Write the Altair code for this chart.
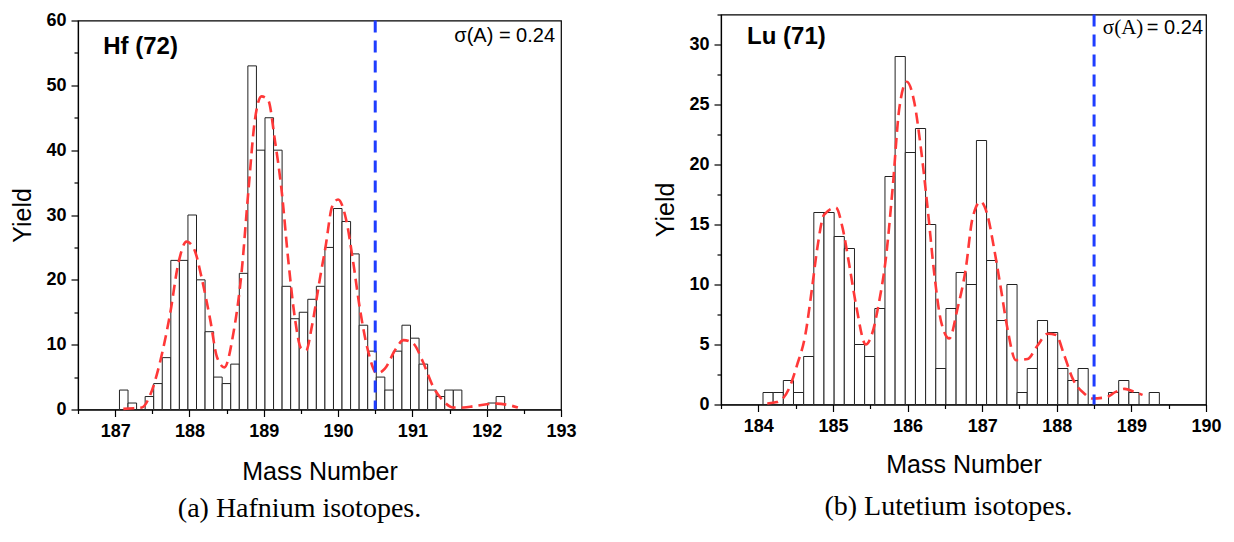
import altair as alt
import pandas as pd

# ---------------- data ----------------
# Hafnium histogram
hf_counts = [3, 1, 0, 2, 4, 8, 23, 23, 30, 20, 12, 5, 4, 7, 21, 53, 40, 45, 40, 19,
             14, 15, 17, 19, 25, 31, 29, 24, 13, 9, 5, 3, 9, 13, 11, 7, 3, 2, 3, 3,
             0, 0, 0, 1, 2]
hf_bin_start = 187.058
hf_bin_width = 0.1152
hf_fit_x = [187.11, 187.25, 187.36, 187.47, 187.61, 187.74, 187.85, 187.96, 188.06, 188.17,
            188.28, 188.37, 188.47, 188.59, 188.70, 188.79, 188.88, 188.97, 189.06, 189.15,
            189.24, 189.33, 189.42, 189.50, 189.57, 189.65, 189.76, 189.83, 189.92, 190.0,
            190.11, 190.20, 190.29, 190.40, 190.52, 190.63, 190.77, 190.88, 191.01, 191.14,
            191.28, 191.41, 191.55, 191.69, 191.82, 192.0, 192.13, 192.29, 192.42]
hf_fit_y = [0.1, 0.2, 0.3, 2.2, 7.6, 14.8, 22.5, 25.9, 24.8, 20.0,
            13.8, 8.1, 6.5, 11.7, 21.0, 33.3, 44.6, 48.3, 47.7, 41.5,
            33.8, 23.0, 14.0, 9.5, 9.1, 13.0, 20.5, 25.0, 31.3, 32.4,
            29.2, 23.0, 15.8, 9.2, 5.6, 6.3, 9.2, 10.7, 10.2, 7.4,
            3.5, 1.4, 0.3, 0.3, 0.5, 0.8, 0.9, 0.7, 0.3]
hf_cut = 190.5

# Lutetium histogram
lu_counts = [1, 1, 2, 1, 4, 16, 16, 14, 13, 5, 4, 8, 19, 29, 21, 23, 15, 3, 8, 11,
             10, 22, 12, 7, 10, 1, 3, 7, 6, 3, 2, 3, 0, 0, 1, 2, 1, 0, 1]
lu_bin_start = 184.063
lu_bin_width = 0.1362
lu_fit_x = [184.12, 184.25, 184.41, 184.52, 184.63, 184.72, 184.79, 184.88, 185.04, 185.13,
            185.22, 185.31, 185.44, 185.52, 185.62, 185.71, 185.80, 185.89, 185.99, 186.09,
            186.18, 186.27, 186.36, 186.45, 186.56, 186.67, 186.78, 186.87, 186.98, 187.07,
            187.16, 187.25, 187.34, 187.45, 187.61, 187.74, 187.88, 187.99, 188.10, 188.21,
            188.37, 188.48, 188.66, 188.79, 188.91, 189.04, 189.15]
lu_fit_y = [0.08, 0.2, 1.3, 3.3, 5.8, 9.7, 13.0, 15.8, 16.4, 14.7,
            11.6, 8.3, 5.0, 5.8, 8.6, 12.2, 18.0, 24.7, 26.9, 25.2,
            21.3, 16.3, 10.8, 6.9, 5.5, 8.0, 11.3, 15.5, 16.9, 15.8,
            13.0, 9.7, 6.3, 3.7, 3.8, 4.9, 5.9, 5.8, 4.1, 2.2,
            0.9, 0.5, 0.6, 1.05, 1.3, 1.05, 0.8]
lu_cut = 188.5

hf_xticks = [187, 188, 189, 190, 191, 192, 193]
hf_xminor = [186.5, 187.5, 188.5, 189.5, 190.5, 191.5, 192.5]
hf_yticks = [0, 10, 20, 30, 40, 50, 60]
hf_yminor = [5, 15, 25, 35, 45, 55]
lu_xticks = [184, 185, 186, 187, 188, 189, 190]
lu_xminor = [183.5, 184.5, 185.5, 186.5, 187.5, 188.5, 189.5]
lu_yticks = [0, 5, 10, 15, 20, 25, 30]
lu_yminor = [2.5, 7.5, 12.5, 17.5, 22.5, 27.5, 32.5]

SANS = "Liberation Sans"
SERIF = "Liberation Serif"


def hist_frame(counts, start, width):
    return pd.DataFrame({
        "x0": [start + i * width for i in range(len(counts))],
        "x1": [start + (i + 1) * width for i in range(len(counts))],
        "count": counts,
    })


def panel(counts, start, width, fit_x, fit_y, cut, xdom, ydom,
          xticks, xminor, yticks, yminor, w, h,
          label, label_xy, sigma_parts, caption, cap_dx, cap_offset, title_pad):
    xs = alt.Scale(domain=xdom, nice=False, zero=False, padding=0)
    ys = alt.Scale(domain=ydom, nice=False, zero=False, padding=0)
    hist = hist_frame(counts, start, width)

    bars = alt.Chart(hist).mark_bar(fill="white", stroke="#222222", strokeWidth=1).encode(
        x=alt.X("x0:Q", scale=xs, axis=alt.Axis(values=xticks, format="d", tickSize=7,
                                                labelPadding=6, labelFlush=False,
                                                title="Mass Number", titlePadding=title_pad)),
        x2="x1:Q",
        y=alt.Y("count:Q", scale=ys, axis=alt.Axis(values=yticks, format="d", tickSize=7,
                                                   labelPadding=5, labelFlush=False,
                                                   title="Yield", titlePadding=10)),
        y2=alt.datum(0),
    )
    minor = alt.Chart(hist).mark_point(opacity=0, size=1).encode(
        x=alt.X("x0:Q", scale=xs, axis=alt.Axis(values=xminor, tickSize=4, labels=False,
                                                title="", domain=False, orient="bottom")),
        y=alt.Y("count:Q", scale=ys, axis=alt.Axis(values=yminor, tickSize=4, labels=False,
                                                   title="", domain=False, orient="left")),
    )
    fit = alt.Chart(pd.DataFrame({"x": fit_x, "y": fit_y})).mark_line(
        color="#ff3838", strokeWidth=2.6, strokeDash=[11, 6], interpolate="monotone"
    ).encode(
        x=alt.X("x:Q", scale=xs, axis=None),
        y=alt.Y("y:Q", scale=ys, axis=None),
    )
    rule = alt.Chart(pd.DataFrame({"c": [cut]})).mark_rule(
        color="#1f3dff", strokeWidth=3, strokeDash=[12, 8]
    ).encode(x=alt.X("c:Q", scale=xs, axis=None))

    lab = alt.Chart(pd.DataFrame({"x": [label_xy[0]], "y": [label_xy[1]], "t": [label]})).mark_text(
        font=SANS, fontSize=24, fontWeight="bold", align="left", baseline="middle", color="black"
    ).encode(x=alt.X("x:Q", scale=xs, axis=None), y=alt.Y("y:Q", scale=ys, axis=None), text="t:N")

    layers = [bars, minor, fit, rule, lab]
    for (txt, font, size, px, py) in sigma_parts:
        layers.append(
            alt.Chart(pd.DataFrame({"x": [px], "y": [py], "t": [txt]})).mark_text(
                font=font, fontSize=size, align="right", baseline="middle", color="black"
            ).encode(x=alt.X("x:Q", scale=xs, axis=None), y=alt.Y("y:Q", scale=ys, axis=None),
                     text="t:N")
        )
    return alt.layer(*layers).resolve_axis(x="independent", y="independent").properties(
        width=w, height=h,
        title=alt.TitleParams(caption, orient="bottom", font=SERIF, fontSize=28,
                              fontWeight="normal", color="black", anchor="middle",
                              frame="group", dx=cap_dx, offset=cap_offset),
    )


def spacer(w, h):
    # thin invisible strip used only to set the vertical offset of a panel
    return alt.Chart(pd.DataFrame({"v": [0]})).mark_point(opacity=0, size=1).encode(
        x=alt.value(10), y=alt.value(h / 2)
    ).properties(width=w, height=h, view=alt.ViewBackground(stroke="transparent"))


left = panel(hf_counts, hf_bin_start, hf_bin_width, hf_fit_x, hf_fit_y, hf_cut,
             [186.5, 193], [0, 60], hf_xticks, hf_xminor, hf_yticks, hf_yminor, 483, 389,
             "Hf (72)", (186.84, 55.85),
             [("σ(A) = 0.24", SANS, 20, 192.92, 57.6)],
             "(a) Hafnium isotopes.", -20, 10, 19)

right = panel(lu_counts, lu_bin_start, lu_bin_width, lu_fit_x, lu_fit_y, lu_cut,
              [183.5, 190], [0, 32.5], lu_xticks, lu_xminor, lu_yticks, lu_yminor, 485, 390,
              "Lu (71)", (183.85, 30.6),
              [("= 0.24", SANS, 20, 189.96, 31.4), ("σ(A)", SERIF, 21, 189.16, 31.4)],
              "(b) Lutetium isotopes.", -15, 15, 17)

left_col = alt.vconcat(spacer(483, 1), left, spacing=0)
right_col = alt.vconcat(spacer(485, 2), right, spacing=0)

chart = alt.hconcat(left_col, right_col, spacing=76).properties(
    padding={"left": 10, "top": 7.5, "right": 5, "bottom": 5},
    background="white",
).configure_view(stroke="black", strokeWidth=1.2).configure_axis(
    grid=False, domainColor="black", domainWidth=1.2, tickColor="black", tickWidth=1.2,
    labelFont=SANS, labelFontWeight="bold", labelFontSize=18, labelColor="black",
    titleFont=SANS, titleFontSize=25, titleFontWeight="normal", titleColor="black",
)

chart.save("out.html", embed_options={"renderer": "svg", "actions": False})
